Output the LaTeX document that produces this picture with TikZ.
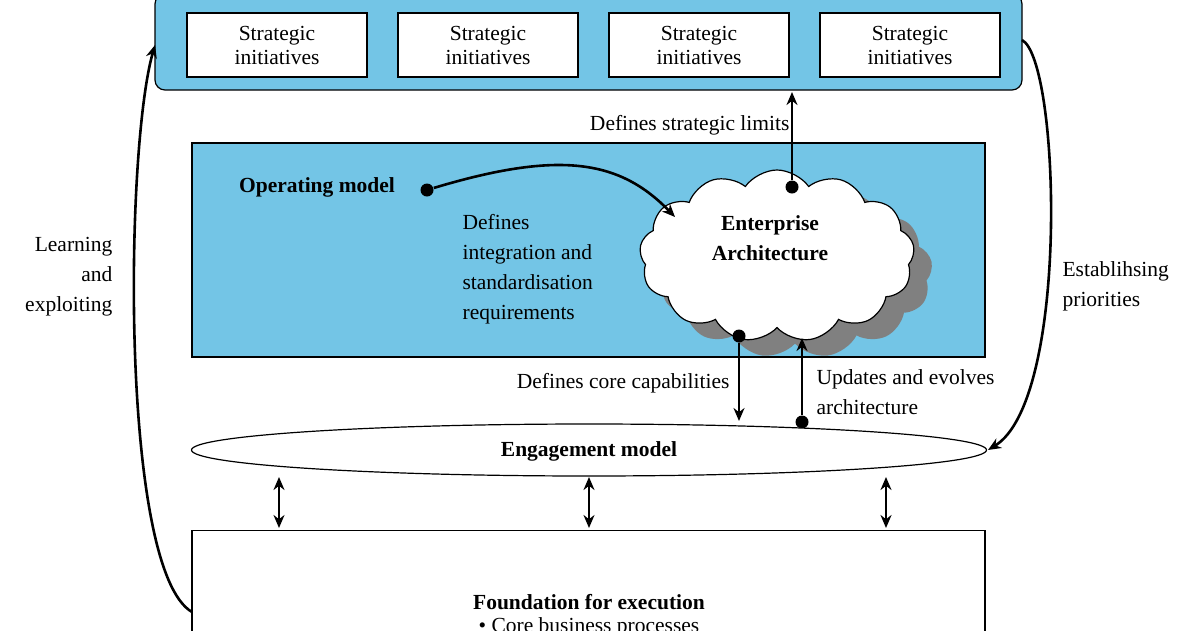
\documentclass[tikz,border=0pt]{standalone}
\usepackage{fontspec}
\setmainfont{Liberation Serif}
\usetikzlibrary{shapes.symbols,shapes.geometric,arrows.meta}
\definecolor{sky}{HTML}{73C5E6}
\begin{document}
\begin{tikzpicture}[x=1pt,y=-1pt,line width=1.2,
  every node/.style={font=\fontsize{21.5}{30}\selectfont},
  sbox/.style={draw,fill=white,minimum width=180,minimum height=64,align=center,inner sep=0},
  arr/.style={-{Stealth[length=13,width=11]},line width=2.6},
  dbl/.style={{Stealth[length=13,width=11]}-{Stealth[length=13,width=11]},line width=2.6},
  dotc/.style={circle,fill=black,inner sep=0,minimum size=13},
  lab/.style={align=left,inner sep=0}]
\useasboundingbox (0,0) rectangle (1200,630);
\clip (0,0) rectangle (1200,630);
\node[draw,fill=sky,rounded corners=10,minimum width=867,minimum height=96,inner sep=0] (top) at (588.5,42) {};
\node[sbox] (s1) at (277,45) {Strategic\\[-6pt]initiatives};
\node[sbox] (s2) at (488,45) {Strategic\\[-6pt]initiatives};
\node[sbox] (s3) at (699,45) {Strategic\\[-6pt]initiatives};
\node[sbox] (s4) at (910,45) {Strategic\\[-6pt]initiatives};
\node[draw,fill=sky,minimum width=793,minimum height=214,inner sep=0] (op) at (588.5,250) {};
\node[font=\fontsize{21.5}{26}\selectfont\bfseries,inner sep=0] (om) at (317,187) {Operating model};
\node[dotc] (omd) at (427,190) {};
\node[cloud,cloud puffs=13,cloud puff arc=110,aspect=1.6,fill=black!50,minimum width=275,minimum height=172,inner sep=0] (sh) at (795,272) {};
\node[cloud,cloud puffs=13,cloud puff arc=110,aspect=1.6,draw,fill=white,minimum width=275,minimum height=172,inner sep=0] (ea) at (777,256) {};
\node[font=\fontsize{21.5}{30}\selectfont\bfseries,align=center,inner sep=0] (eat) at (770,238) {Enterprise\\Architecture};
\node[lab,anchor=north west] (dl) at (462,214) {Defines\\integration and\\standardisation\\requirements};
\draw[arr] (omd) .. controls (560,150) and (620,160) .. (675,217);
\node[dotc] (d1) at (792,187) {};
\draw[arr] (d1) -- (792,92);
\node[lab,anchor=east] (l1) at (790,125) {Defines strategic limits};
\node[dotc] (d2) at (739,336) {};
\coordinate (e2) at (739,421);
\draw[arr] (d2) -- (e2);
\node[lab,anchor=east] (l2) at (730,383) {Defines core capabilities};
\node[dotc] (d3) at (802,422) {};
\draw[arr] (d3) -- (802,338);
\node[lab,anchor=north west] (l3) at (816,369) {Updates and evolves\\architecture};
\node[draw,fill=white,ellipse,minimum width=795,minimum height=52,inner sep=0] (eng) at (589,450) {};
\node[font=\fontsize{21.5}{26}\selectfont\bfseries,inner sep=0] (engt) at (589,451) {Engagement model};
\node[draw,fill=white,minimum width=793,minimum height=120,inner sep=0,anchor=north] (fe) at (588.5,530) {};
\foreach \x in {279,589,886} \draw[dbl] (\x,477) -- (\x,528);
\node[font=\fontsize{21.5}{26}\selectfont\bfseries,inner sep=0] (fet) at (589,602) {Foundation for execution};
\node[inner sep=0] (fe1) at (589,627) {\textbullet\ Core business processes};
\draw[arr] (192,612) .. controls (120,570) and (125,150) .. (155,45);
\node[lab,align=right,anchor=north east] (ll) at (113,237) {Learning\\and\\exploiting};
\draw[arr] (1022,40) .. controls (1060,60) and (1070,400) .. (988,450);
\node[lab,anchor=north west] (rl) at (1062,261) {Establihsing\\priorities};
\end{tikzpicture}
\end{document}
